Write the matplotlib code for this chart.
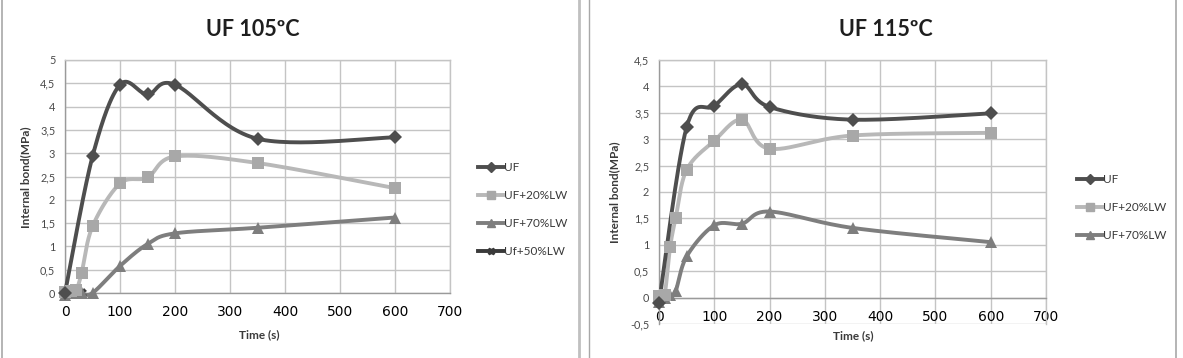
import numpy as np
import matplotlib
matplotlib.use("Agg")
import matplotlib.pyplot as plt
from matplotlib.lines import Line2D

# ---- data ----
title_a = "UF 105ºC"
title_b = "UF 115ºC"
xlabel = "Time (s)"
ylabel = "Internal bond(MPa)"

a_uf_x = [0, 50, 100, 150, 200, 350, 600]
a_uf_y = [0.0, 2.93, 4.47, 4.26, 4.47, 3.31, 3.34]
a_20_x = [0, 10, 20, 30, 50, 100, 150, 200, 350, 600]
a_20_y = [0.02, 0.05, 0.06, 0.42, 1.43, 2.35, 2.48, 2.93, 2.79, 2.25]
a_70_x = [0, 10, 20, 30, 50, 100, 150, 200, 350, 600]
a_70_y = [-0.05, 0.0, 0.0, 0.0, 0.0, 0.58, 1.05, 1.28, 1.40, 1.62]
a_50_x = [0, 10, 20, 30]
a_50_y = [-0.02, 0.0, 0.02, 0.0]

b_uf_x = [0, 50, 100, 150, 200, 350, 600]
b_uf_y = [-0.1, 3.23, 3.63, 4.04, 3.61, 3.37, 3.49]
b_20_x = [0, 10, 20, 30, 50, 100, 150, 200, 350, 600]
b_20_y = [0.03, 0.05, 0.95, 1.50, 2.42, 2.97, 3.37, 2.82, 3.07, 3.12]
b_70_x = [0, 10, 20, 30, 50, 100, 150, 200, 350, 600]
b_70_y = [-0.08, 0.0, 0.05, 0.12, 0.78, 1.37, 1.40, 1.63, 1.32, 1.05]

a_yticks = [0, 0.5, 1, 1.5, 2, 2.5, 3, 3.5, 4, 4.5, 5]
b_yticks = [-0.5, 0, 0.5, 1, 1.5, 2, 2.5, 3, 3.5, 4, 4.5]
xticks = [0, 100, 200, 300, 400, 500, 600, 700]

lab_uf = "UF"
lab_20 = "UF+20%LW"
lab_70 = "UF+70%LW"
lab_50 = "Uf+50%LW"

C_UF = "#4e4e4e"
C_20 = "#b8b8b8"
C_70 = "#7e7e7e"
C_50 = "#3a3a3a"

W, H = 1183, 358
fig = plt.figure(figsize=(W / 100, H / 100), dpi=100)
fig.patch.set_facecolor("white")
FONT = "Lato"
TXT = "#3a3a3a"


def smooth(ax, xs, ys, n=30):
    """Excel-style smoothed line (Catmull-Rom Bezier) computed in display space."""
    pts = ax.transData.transform(np.column_stack([xs, ys]))
    out = [pts[0]]
    m = len(pts)
    for i in range(m - 1):
        p0 = pts[i - 1] if i > 0 else pts[i]
        p1 = pts[i]
        p2 = pts[i + 1]
        p3 = pts[i + 2] if i + 2 < m else pts[i + 1]
        c1 = p1 + (p2 - p0) / 6.0
        c2 = p2 - (p3 - p1) / 6.0
        t = np.linspace(0, 1, n)[1:, None]
        seg = ((1 - t) ** 3) * p1 + 3 * ((1 - t) ** 2) * t * c1 + 3 * (1 - t) * t ** 2 * c2 + t ** 3 * p2
        out.extend(seg)
    out = np.array(out)
    d = ax.transData.inverted().transform(out)
    return d[:, 0], d[:, 1]


def fmt(v):
    return ("%g" % v).replace(".", ",")


def setup(ax, yticks):
    ax.set_xlim(0, 700)
    ax.set_ylim(yticks[0], yticks[-1])
    ax.set_xticks(xticks)
    ax.set_yticks(yticks)
    ax.set_xticklabels([fmt(v) for v in xticks], fontsize=7.8, family=FONT, color="#4a4a4a")
    ax.set_yticklabels([fmt(v) for v in yticks], fontsize=7.8, family=FONT, color="#4a4a4a")
    ax.tick_params(axis="x", length=0, pad=9)
    ax.tick_params(axis="y", length=0, pad=7)
    ax.grid(True, color="#c4c4c4", linewidth=1.0)
    ax.set_axisbelow(True)
    for s in ax.spines.values():
        s.set_color("#c4c4c4")
        s.set_linewidth(1.0)
    ax.spines["left"].set_color("#9a9a9a")
    ax.spines["bottom"].set_color("#9a9a9a")
    ax.spines["bottom"].set_position(("data", 0))
    ax.set_facecolor("white")


def draw(ax, xs, ys, color, marker, ms, mcolor=None):
    sx, sy = smooth(ax, xs, ys)
    ax.plot(sx, sy, color=color, lw=2.8, solid_capstyle="round", zorder=3, clip_on=False)
    ax.plot(xs, ys, ls="none", marker=marker, ms=ms, color=mcolor or color,
            markeredgecolor=mcolor or color, mew=0, zorder=4, clip_on=False)


legend_kw = dict(loc="upper left", frameon=False,
                 prop={"family": FONT, "size": 8.5}, handlelength=2.2, handletextpad=0.05,
                 labelspacing=1.45, borderpad=0, labelcolor=TXT)

# ---- left panel ----
axA = fig.add_axes([65 / W, 1 - 293 / H, 385 / W, 233 / H])
setup(axA, a_yticks)
draw(axA, a_50_x, a_50_y, C_50, "X", 7)
draw(axA, a_70_x, a_70_y, C_70, "^", 8.5)
draw(axA, a_20_x, a_20_y, C_20, "s", 9, "#a8a8a8")
draw(axA, a_uf_x, a_uf_y, C_UF, "D", 7)
fig.text(253 / W, 1 - 29 / H, title_a, ha="center", va="center", fontsize=15.5,
         fontweight="bold", family=FONT, color="#1e1e1e")
fig.text(26 / W, 1 - 177 / H, ylabel, rotation=90, ha="center", va="center",
         fontsize=8.5, fontweight="bold", family=FONT, color=TXT)
fig.text(259 / W, 1 - 335 / H, xlabel, ha="center", va="center",
         fontsize=8.5, fontweight="bold", family=FONT, color=TXT)

handlesA = [
    Line2D([], [], color=C_UF, lw=2.8, marker="D", ms=5),
    Line2D([], [], color=C_20, lw=2.8, marker="s", ms=6, mfc="#a8a8a8", mec="#a8a8a8"),
    Line2D([], [], color=C_70, lw=2.8, marker="^", ms=6),
    Line2D([], [], color=C_50, lw=2.8, marker="X", ms=5),
]
fig.legend(handlesA, [lab_uf, lab_20, lab_70, lab_50],
           bbox_to_anchor=(472 / W, 1 - 156 / H), **legend_kw)

# ---- right panel ----
axB = fig.add_axes([659 / W, 1 - 324 / H, 387 / W, 264 / H])
setup(axB, b_yticks)
draw(axB, b_70_x, b_70_y, C_70, "^", 8.5)
draw(axB, b_20_x, b_20_y, C_20, "s", 9, "#a8a8a8")
draw(axB, b_uf_x, b_uf_y, C_UF, "D", 7)
fig.text(886 / W, 1 - 29 / H, title_b, ha="center", va="center", fontsize=15.5,
         fontweight="bold", family=FONT, color="#1e1e1e")
fig.text(615 / W, 1 - 192 / H, ylabel, rotation=90, ha="center", va="center",
         fontsize=8.5, fontweight="bold", family=FONT, color=TXT)
fig.text(853 / W, 1 - 336 / H, xlabel, ha="center", va="center",
         fontsize=8.5, fontweight="bold", family=FONT, color=TXT)

fig.legend(handlesA[:3], [lab_uf, lab_20, lab_70],
           bbox_to_anchor=(1071 / W, 1 - 168 / H), **legend_kw)

# ---- panel borders ----
for xpix, col, lw in [(2, "#a8a8a8", 1.2), (579, "#c0c0c0", 2.0), (589, "#a8a8a8", 1.0), (1176, "#a8a8a8", 1.2)]:
    fig.add_artist(Line2D([xpix / W, xpix / W], [0, 1], color=col, lw=lw, transform=fig.transFigure))

fig.savefig("out.png", dpi=100, facecolor="white")
